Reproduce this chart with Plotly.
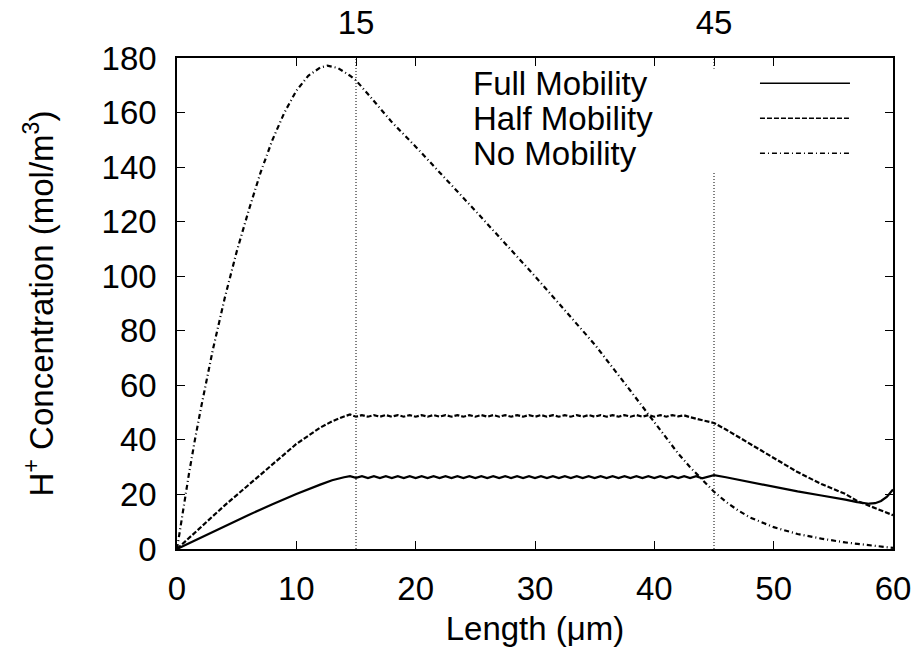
import plotly.graph_objects as go

# ---------------- data ----------------
early_x = [0, 2, 4, 6, 8, 10, 12, 13, 14, 14.5]
plateau_x = [15.0, 15.5, 16.0, 16.5, 17.0, 17.5, 18.0, 18.5, 19.0, 19.5,
             20.0, 20.5, 21.0, 21.5, 22.0, 22.5, 23.0, 23.5, 24.0, 24.5,
             25.0, 25.5, 26.0, 26.5, 27.0, 27.5, 28.0, 28.5, 29.0, 29.5,
             30.0, 30.5, 31.0, 31.5, 32.0, 32.5, 33.0, 33.5, 34.0, 34.5,
             35.0, 35.5, 36.0, 36.5, 37.0, 37.5, 38.0, 38.5, 39.0, 39.5,
             40.0, 40.5, 41.0, 41.5, 42.0, 42.5, 43.0, 43.5, 44.0, 44.5,
             45.0]
late_x = [46, 47, 48, 50, 52, 54, 55, 56, 57, 57.5, 58, 58.5, 59, 59.5, 60]

full_early = [0, 4.2, 8.4, 12.5, 16.4, 20.2, 23.6, 25.2, 26.3, 26.7]
full_plateau = [26.1, 26.7, 26.0, 26.7, 26.0, 26.7, 26.0, 26.7, 26.0, 26.7,
                26.0, 26.7, 26.0, 26.7, 26.0, 26.7, 26.0, 26.7, 26.0, 26.7,
                26.0, 26.7, 26.0, 26.7, 26.0, 26.7, 26.0, 26.7, 26.0, 26.7,
                26.0, 26.7, 26.0, 26.7, 26.0, 26.7, 26.0, 26.7, 26.0, 26.7,
                26.0, 26.7, 26.0, 26.7, 26.0, 26.7, 26.0, 26.7, 26.0, 26.7,
                26.0, 26.7, 26.0, 26.7, 26.0, 26.7, 26.0, 26.7, 25.9, 26.5,
                27.1]
full_late = [26.3, 25.4, 24.6, 22.9, 21.1, 19.6, 18.9, 18.1, 17.2, 16.8,
             16.6, 16.8, 17.6, 19.2, 21.8]

half_early = [0, 8, 16, 23.5, 31, 38.5, 44.5, 46.8, 48.6, 49.3]
half_plateau = [48.5, 49.1, 48.5, 49.1, 48.5, 49.1, 48.5, 49.1, 48.5, 49.1,
                48.5, 49.1, 48.5, 49.1, 48.5, 49.1, 48.5, 49.1, 48.5, 49.1,
                48.5, 49.1, 48.5, 49.1, 48.5, 49.1, 48.5, 49.1, 48.5, 49.1,
                48.5, 49.1, 48.5, 49.1, 48.5, 49.1, 48.5, 49.1, 48.5, 49.1,
                48.5, 49.1, 48.5, 49.1, 48.5, 49.1, 48.5, 49.1, 48.5, 49.1,
                48.5, 49.1, 48.5, 49.1, 48.6, 49.0, 48.3, 47.8, 47.2, 46.7,
                46.2]
half_late = [43.8, 41.2, 38.6, 33.4, 28.2, 23.8, 21.9, 20.2, 17.6, 16.7,
             15.9, 15.1, 14.2, 13.3, 12.4]

nomob_x = [0, 0.5, 1, 1.5, 2, 3, 4, 5, 6, 7, 8, 9, 10, 11, 12, 12.6, 13.5,
           14.5, 15, 16, 17, 18, 20, 25, 30, 35, 38, 40, 42, 43, 44, 45, 46,
           47, 48, 50, 52, 54, 56, 58, 60]
nomob_y = [0, 14, 27.5, 40, 51.5, 73, 92, 109, 124, 138, 150, 160, 168,
           173.5, 176.5, 177.2, 176.3, 173.5, 171.8, 166.8, 161.5, 156.5, 147.5,
           124, 100, 75, 58, 46.5, 35, 30, 25.5, 21, 17.3, 14.2, 11.6, 8,
           5.5, 3.8, 2.4, 1.3, 0.4]

series_names = ["Full Mobility", "Half Mobility", "No Mobility"]
marker_x = [15, 45]
x_ticks = [0, 10, 20, 30, 40, 50, 60]
y_ticks = [0, 20, 40, 60, 80, 100, 120, 140, 160, 180]

# ---------------- figure ----------------
FONT = "Liberation Sans, Arial, Helvetica, sans-serif"
FS = 33
LW = 2.2
dashes = ["solid", "5px,2px", "5px,3px,1px,3px"]

fig = go.Figure()
fig.add_trace(go.Scatter(x=early_x + plateau_x + late_x,
                         y=full_early + full_plateau + full_late,
                         mode="lines", name=series_names[0],
                         line=dict(color="black", width=LW, dash=dashes[0])))
fig.add_trace(go.Scatter(x=early_x + plateau_x + late_x,
                         y=half_early + half_plateau + half_late,
                         mode="lines", name=series_names[1],
                         line=dict(color="black", width=LW, dash=dashes[1])))
fig.add_trace(go.Scatter(x=nomob_x, y=nomob_y,
                         mode="lines", name=series_names[2],
                         line=dict(color="black", width=LW, dash=dashes[2])))
# empty trace so that the top (marker) axis is drawn
fig.add_trace(go.Scatter(x=marker_x, y=[None, None], xaxis="x2", mode="lines",
                         hoverinfo="skip", showlegend=False))

shapes = []
for mx in marker_x:
    shapes.append(dict(type="line", xref="x", yref="y domain", x0=mx, x1=mx,
                       y0=0, y1=1, line=dict(color="black", width=1, dash="1px,2px"),
                       layer="above"))
# opaque key box
shapes.append(dict(type="rect", xref="paper", yref="paper", x0=0.39, x1=0.975,
                   y0=0.768, y1=0.978, fillcolor="white", line=dict(width=0),
                   layer="above"))
key_y = [0.9485, 0.8773, 0.8061]
annotations = []
for name, ky, dsh in zip(series_names, key_y, dashes):
    shapes.append(dict(type="line", xref="paper", yref="paper", x0=0.8142, x1=0.9399,
                       y0=ky, y1=ky, line=dict(color="black", width=1.6, dash=dsh),
                       layer="above"))
    annotations.append(dict(xref="paper", yref="paper", x=0.4106, y=ky, text=name,
                            showarrow=False, xanchor="left", yanchor="middle",
                            font=dict(family=FONT, size=FS, color="black")))

axis_common = dict(showgrid=False, zeroline=False, ticks="inside", ticklen=8,
                   tickwidth=1.2, tickcolor="black", linecolor="black", linewidth=1.6,
                   automargin=False,
                   tickfont=dict(family=FONT, size=FS, color="black"))

fig.update_layout(
    width=920, height=656,
    margin=dict(l=177, r=27, t=58, b=107),
    paper_bgcolor="white", plot_bgcolor="white",
    showlegend=False,
    shapes=shapes, annotations=annotations,
    xaxis=dict(range=[0, 60], tickvals=x_ticks, showline=True, mirror="ticks",
               ticklabelstandoff=10,
               title=dict(text="Length (μm)", font=dict(family=FONT, size=FS, color="black"),
                          standoff=10),
               **axis_common),
    xaxis2=dict(range=[0, 60], overlaying="x", side="top", tickvals=marker_x,
                showline=False, anchor="y", ticklabelstandoff=16, **axis_common),
    yaxis=dict(range=[0, 180], tickvals=y_ticks, showline=True, mirror="ticks",
               ticklabelstandoff=12,
               title=dict(text="H<sup>+</sup> Concentration (mol/m<sup>3</sup>)",
                          font=dict(family=FONT, size=FS, color="black"), standoff=38),
               **axis_common),
)

fig.write_html("out.html")
